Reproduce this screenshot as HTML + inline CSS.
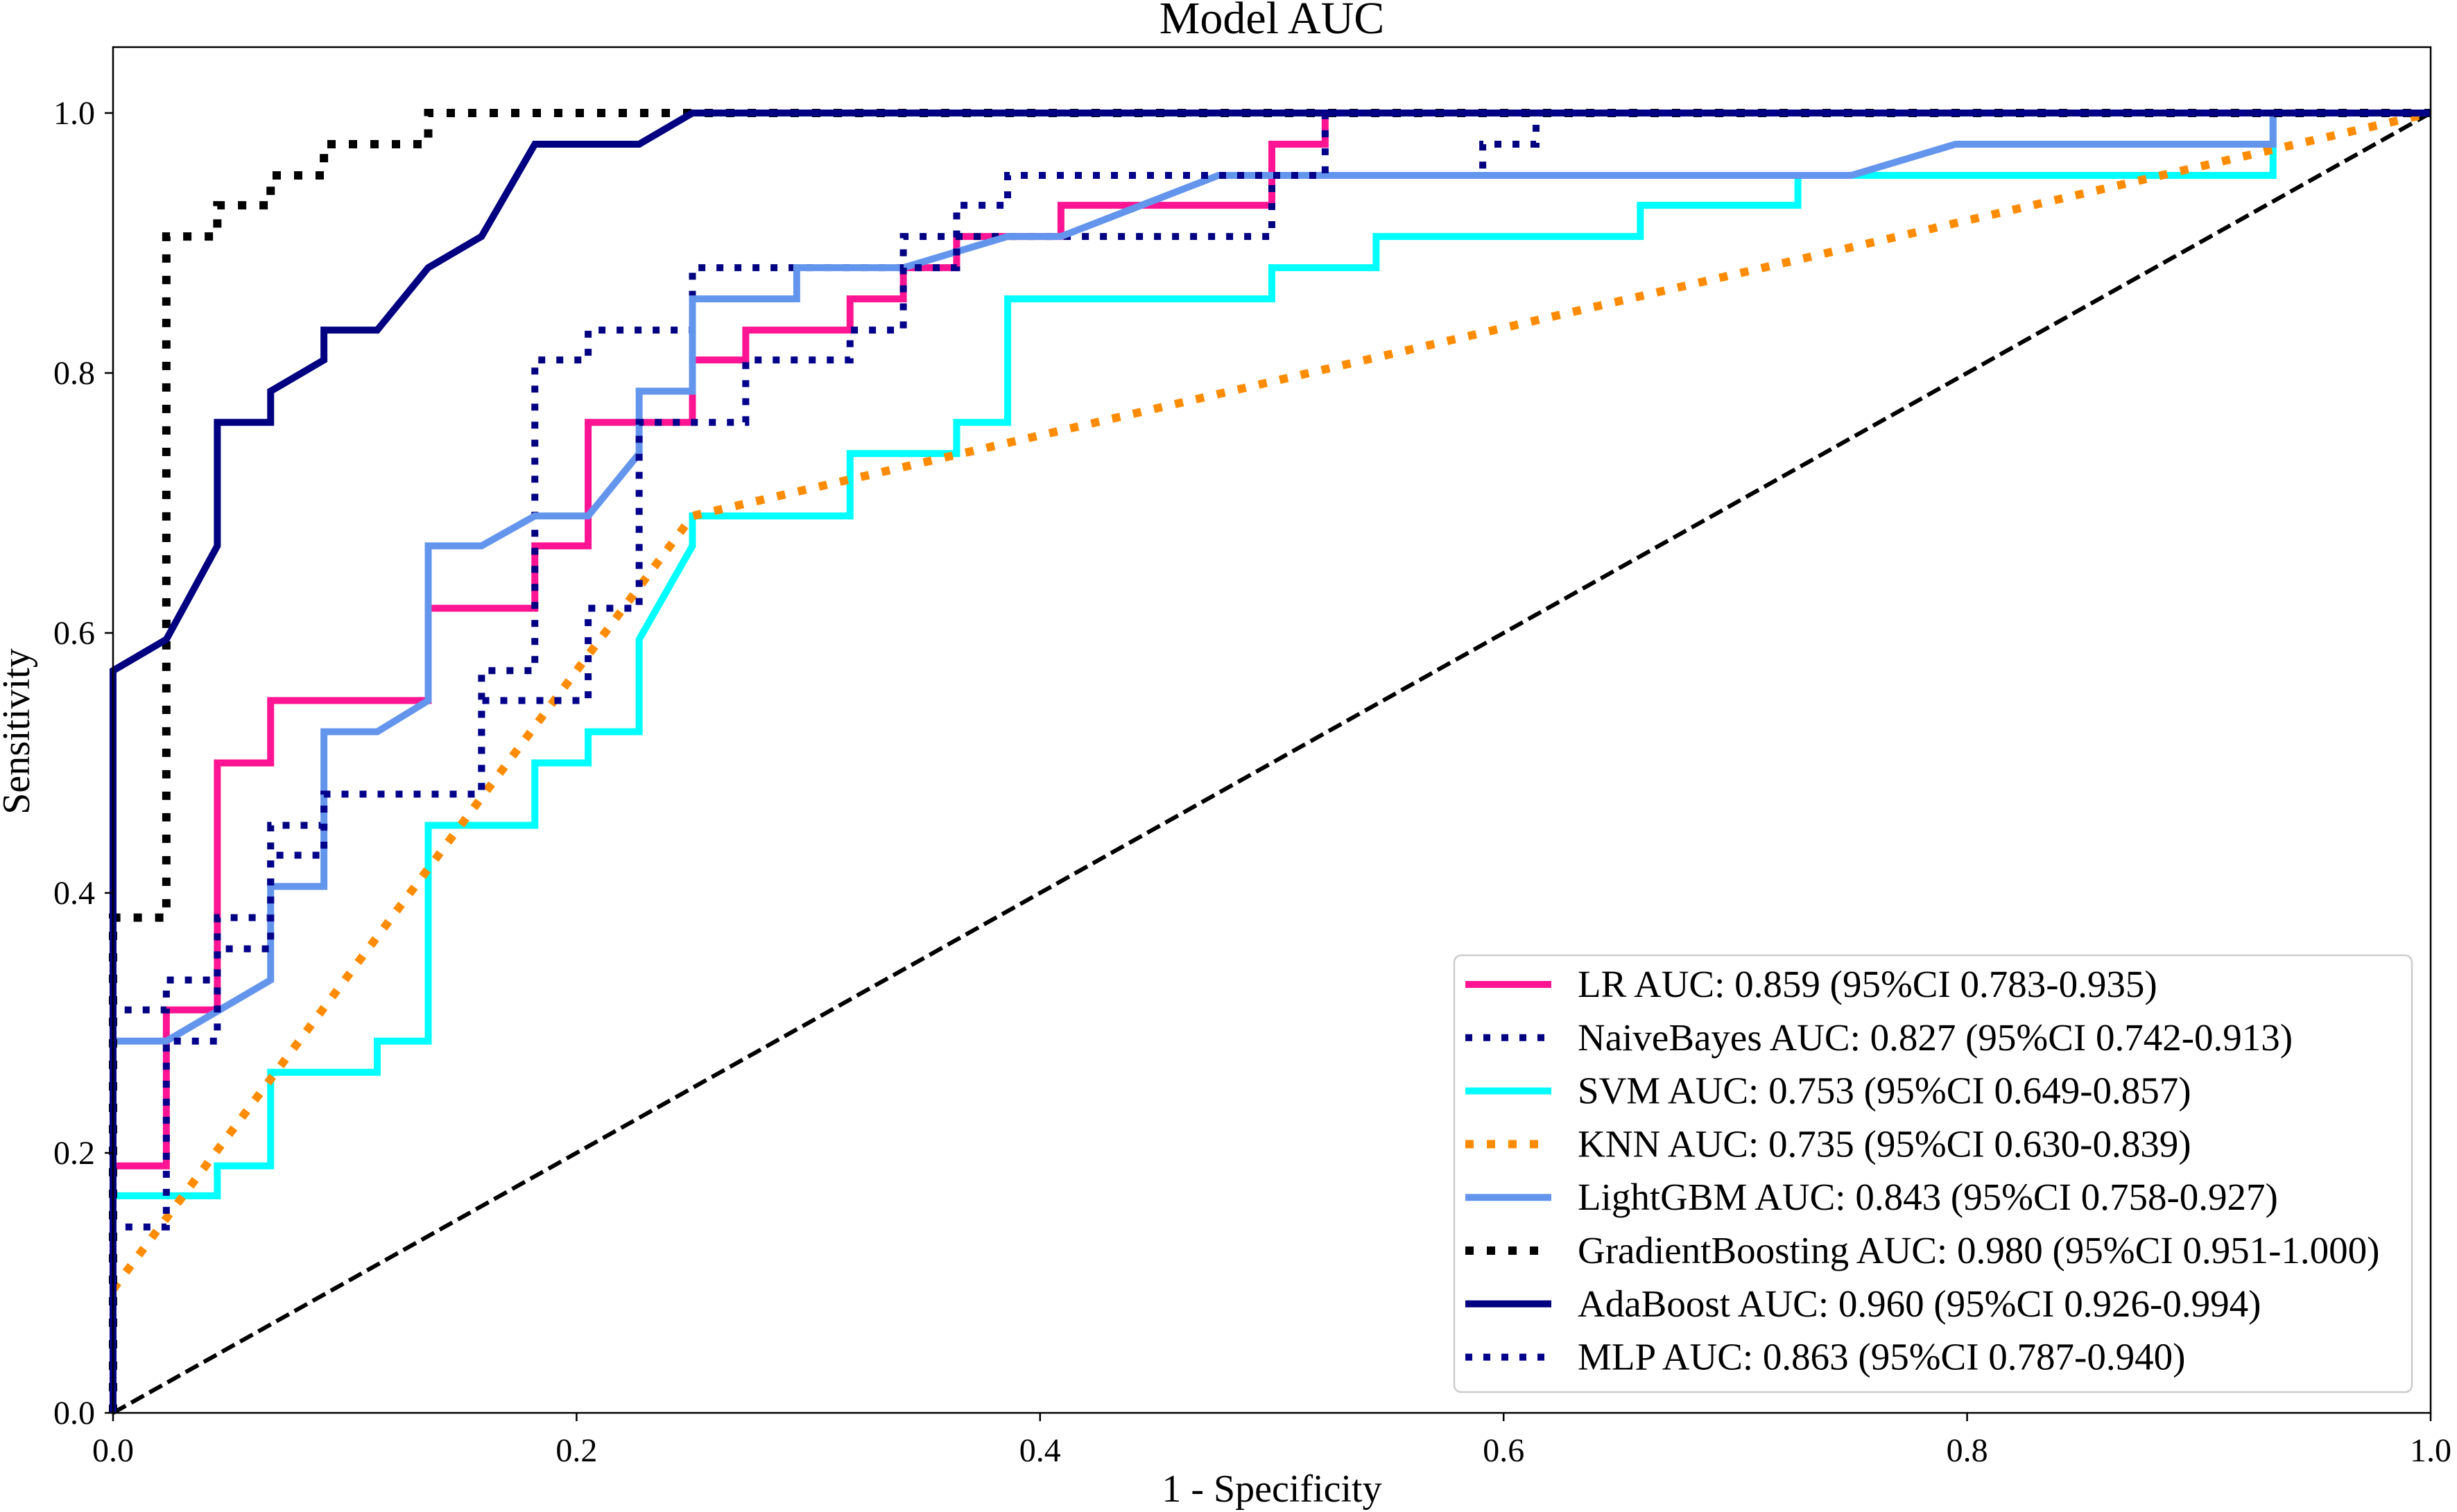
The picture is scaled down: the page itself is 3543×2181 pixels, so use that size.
<!DOCTYPE html>
<html><head><meta charset="utf-8"><style>
html,body{margin:0;padding:0;background:#fff;}
svg{display:block;font-family:"Liberation Serif",serif;}
</style></head><body>
<svg id="chart" width="3543" height="2181" viewBox="0 0 3543 2181" xmlns="http://www.w3.org/2000/svg">
<text x="1834" y="48" font-size="66" text-anchor="middle">Model AUC</text>
<g id="plot"></g>
</svg>
<script>
const xTicks = [0, 0.2, 0.4, 0.6, 0.8, 1.0];
const yTicks = [0, 0.2, 0.4, 0.6, 0.8, 1.0];
const tickLabels = ["0.0","0.2","0.4","0.6","0.8","1.0"];
const seriesNames = ["LR","NaiveBayes","SVM","KNN","LightGBM","GradientBoosting","AdaBoost","MLP"];
const legendLabels = [
 "LR AUC: 0.859 (95%CI 0.783-0.935)",
 "NaiveBayes AUC: 0.827 (95%CI 0.742-0.913)",
 "SVM AUC: 0.753 (95%CI 0.649-0.857)",
 "KNN AUC: 0.735 (95%CI 0.630-0.839)",
 "LightGBM AUC: 0.843 (95%CI 0.758-0.927)",
 "GradientBoosting AUC: 0.980 (95%CI 0.951-1.000)",
 "AdaBoost AUC: 0.960 (95%CI 0.926-0.994)",
 "MLP AUC: 0.863 (95%CI 0.787-0.940)"];
const lrPts = [[0,0],[0,0.19],[0.023,0.19],[0.023,0.31],[0.045,0.31],[0.045,0.5],[0.068,0.5],[0.068,0.548],[0.136,0.548],[0.136,0.619],[0.182,0.619],[0.182,0.667],[0.205,0.667],[0.205,0.762],[0.25,0.762],[0.25,0.81],[0.273,0.81],[0.273,0.833],[0.318,0.833],[0.318,0.857],[0.341,0.857],[0.341,0.881],[0.364,0.881],[0.364,0.905],[0.409,0.905],[0.409,0.929],[0.5,0.929],[0.5,0.976],[0.523,0.976],[0.523,1],[1,1]];
const nbPts = [[0,0],[0,0.31],[0.023,0.31],[0.023,0.333],[0.045,0.333],[0.045,0.381],[0.068,0.381],[0.068,0.452],[0.091,0.452],[0.091,0.476],[0.159,0.476],[0.159,0.571],[0.182,0.571],[0.182,0.81],[0.205,0.81],[0.205,0.833],[0.25,0.833],[0.25,0.881],[0.341,0.881],[0.341,0.905],[0.5,0.905],[0.5,0.952],[0.591,0.952],[0.591,0.976],[0.614,0.976],[0.614,1],[1,1]];
const svmPts = [[0,0],[0,0.167],[0.045,0.167],[0.045,0.19],[0.068,0.19],[0.068,0.262],[0.114,0.262],[0.114,0.286],[0.136,0.286],[0.136,0.452],[0.182,0.452],[0.182,0.5],[0.205,0.5],[0.205,0.524],[0.227,0.524],[0.227,0.595],[0.25,0.667],[0.25,0.69],[0.318,0.69],[0.318,0.738],[0.364,0.738],[0.364,0.762],[0.386,0.762],[0.386,0.857],[0.5,0.857],[0.5,0.881],[0.545,0.881],[0.545,0.905],[0.659,0.905],[0.659,0.929],[0.727,0.929],[0.727,0.952],[0.932,0.952],[0.932,1],[1,1]];
const knnPts = [[0,0.095],[0.25,0.69],[1,1]];
const lgbPts = [[0,0],[0,0.286],[0.023,0.286],[0.068,0.333],[0.068,0.405],[0.091,0.405],[0.091,0.524],[0.114,0.524],[0.136,0.548],[0.136,0.667],[0.159,0.667],[0.182,0.69],[0.205,0.69],[0.227,0.738],[0.227,0.786],[0.25,0.786],[0.25,0.857],[0.295,0.857],[0.295,0.881],[0.341,0.881],[0.386,0.905],[0.409,0.905],[0.477,0.952],[0.75,0.952],[0.795,0.976],[0.932,0.976],[0.932,1],[1,1]];
const gbPts = [[0,0],[0,0.381],[0.023,0.381],[0.023,0.905],[0.045,0.905],[0.045,0.929],[0.068,0.929],[0.068,0.952],[0.091,0.952],[0.091,0.976],[0.136,0.976],[0.136,1],[1,1]];
const adaPts = [[0,0],[0,0.571],[0.023,0.595],[0.045,0.667],[0.045,0.762],[0.068,0.762],[0.068,0.786],[0.091,0.81],[0.091,0.833],[0.114,0.833],[0.136,0.881],[0.159,0.905],[0.182,0.976],[0.227,0.976],[0.25,1],[1,1]];
const mlpPts = [[0,0],[0,0.143],[0.023,0.143],[0.023,0.286],[0.045,0.286],[0.045,0.357],[0.068,0.357],[0.068,0.429],[0.091,0.429],[0.091,0.476],[0.159,0.476],[0.159,0.548],[0.205,0.548],[0.205,0.619],[0.227,0.619],[0.227,0.762],[0.273,0.762],[0.273,0.81],[0.318,0.81],[0.318,0.833],[0.341,0.833],[0.341,0.881],[0.364,0.881],[0.364,0.929],[0.386,0.929],[0.386,0.952],[0.5,0.952],[0.523,0.952],[0.523,1],[1,1]];
const allPts = [lrPts, nbPts, svmPts, knnPts, lgbPts, gbPts, adaPts, mlpPts];

const L=163, R=3505, Y0=2038, Y1=163, TOP=68;
const NS="http://www.w3.org/2000/svg";
function sx(v){return L+(R-L)*v;}
function sy(v){return Y0-(Y0-Y1)*v;}
const colors=["#ff1493","#000080","#00ffff","#ff8c00","#6495ed","#000000","#000080","#00008b"];
const styles=[
 {w:10,d:null},{w:10,d:"10,16"},{w:10,d:null},{w:12,d:"12,19"},
 {w:10,d:null},{w:12,d:"12,19"},{w:10,d:null},{w:10,d:"10,16"}];
const g=document.getElementById('plot');
function mk(tag,attrs){const e=document.createElementNS(NS,tag);for(const k in attrs)e.setAttribute(k,attrs[k]);g.appendChild(e);return e;}

let diag=mk('line',{x1:sx(0),y1:sy(0),x2:sx(1),y2:sy(1),stroke:"#000","stroke-width":6,"stroke-dasharray":"21,9"});



allPts.forEach((pts,i)=>{
  const p=mk('polyline',{points:pts.map(q=>sx(q[0])+","+sy(q[1])).join(" "),fill:"none",stroke:colors[i],"stroke-width":styles[i].w,"stroke-linejoin":"miter"});
  if(styles[i].d)p.setAttribute('stroke-dasharray',styles[i].d);
  
  
});

let fr=mk('rect',{x:L,y:TOP,width:R-L,height:Y0-TOP,fill:"none",stroke:"#000","stroke-width":2.5});



xTicks.forEach((v,i)=>{
  mk('line',{x1:sx(v),y1:Y0,x2:sx(v),y2:Y0+12,stroke:"#000","stroke-width":2.5});
  const t=mk('text',{x:sx(v),y:2108,"font-size":48,"text-anchor":"middle"});t.textContent=tickLabels[i];
  
  
});
yTicks.forEach((v,i)=>{
  mk('line',{x1:L-12,y1:sy(v),x2:L,y2:sy(v),stroke:"#000","stroke-width":2.5});
  const t=mk('text',{x:137,y:sy(v)+16,"font-size":48,"text-anchor":"end"});t.textContent=tickLabels[i];
  
  
});
let xt=mk('text',{x:1834,y:2166,"font-size":56,"text-anchor":"middle"});xt.textContent="1 - Specificity";


let yt=mk('text',{x:42,y:1055,"font-size":56,"text-anchor":"middle",transform:"rotate(-90 42 1055)"});yt.textContent="Sensitivity";



let lb=mk('rect',{x:2097,y:1378,width:1381,height:630,rx:10,fill:"#fff",stroke:"#ccc","stroke-width":2.5,"fill-opacity":0.85});


legendLabels.forEach((lab,i)=>{
  const y=1420+i*76.8;
  const ln=mk('line',{x1:2113,y1:y,x2:2237,y2:y,stroke:colors[i],"stroke-width":styles[i].w});
  if(styles[i].d)ln.setAttribute('stroke-dasharray',styles[i].d);
  
  
  const t=mk('text',{x:2275,y:y+18,"font-size":55});t.textContent=lab;
  
  
});
</script>
</body></html>
